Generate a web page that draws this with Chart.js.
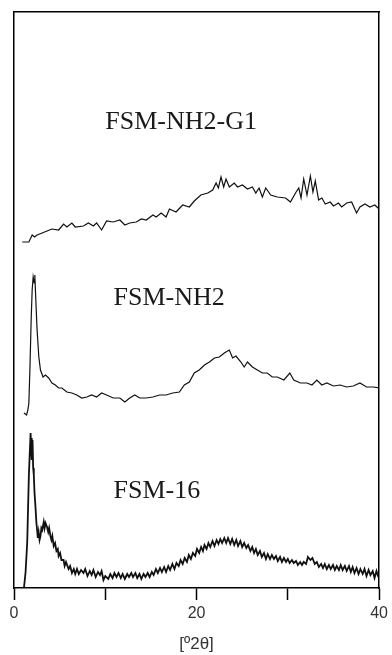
<!DOCTYPE html>
<html>
<head>
<meta charset="utf-8">
<script src="https://cdn.jsdelivr.net/npm/chart.js@4"></script>
<style>
  html, body { margin: 0; padding: 0; background: #fff; }
  #wrap { width: 392px; height: 655px; position: relative; }
</style>
</head>
<body>
<div id="wrap"><canvas id="xrdChart"></canvas></div>
<script>
// x in degrees 2theta, y in stacked intensity units (a.u.)
const g1X = [0.90,1.63,1.99,2.25,2.53,3.08,3.62,4.16,4.89,5.43,5.79,6.34,6.71,7.61,8.15,8.70,9.05,9.60,10.14,10.87,11.60,12.14,12.68,13.40,13.95,14.49,15.22,15.58,16.12,16.66,17.03,17.75,18.48,19.21,19.75,20.47,21.23,21.77,22.14,22.39,22.68,22.97,23.23,23.59,24.13,24.49,25.03,25.58,26.12,26.49,26.85,27.21,27.58,28.12,28.84,29.75,30.29,30.84,31.20,31.45,31.74,32.10,32.47,32.75,33.01,33.37,33.73,34.10,34.64,35.00,35.54,35.90,36.45,36.99,37.53,37.90,38.45,38.99,39.53,40.00];
const g1Y = [346,346,353,351,353,355,357,359,358,364,361,365,361,362,365,362,365,358,367,366,368,363,365,366,369,368,373,371,375,371,379,376,383,381,387,393,395,398,405,400,411,401,409,401,405,401,403,399,401,395,400,391,400,393,391,390,386,395,400,390,409,393,412,396,407,388,390,384,386,382,385,381,385,386,375,381,384,381,383,379];

const nh2X = [1.09,1.38,1.52,1.63,1.74,1.88,1.99,2.10,2.21,2.28,2.39,2.53,2.72,2.90,3.18,3.45,3.80,4.16,4.53,4.89,5.25,5.79,6.34,6.88,7.42,7.97,8.51,9.05,9.60,10.14,10.87,11.60,12.14,12.68,13.23,13.77,14.49,15.22,15.95,16.66,17.39,18.12,18.66,19.21,19.75,20.29,20.87,21.41,21.96,22.50,23.04,23.59,23.95,24.32,24.86,25.22,25.58,26.12,26.66,27.21,27.75,28.29,28.84,29.57,30.22,30.65,31.38,32.10,32.64,33.18,33.73,34.27,35.00,35.73,36.45,37.17,37.90,38.62,39.35,40.00];
const nh2Y = [175,173,178,185,218,268,298,311,305,313,288,258,231,218,211,213,210,205,203,200,200,196,195,193,190,191,193,191,195,193,190,190,186,190,193,190,190,191,193,193,195,196,203,206,215,218,223,226,230,231,235,238,230,232,226,221,226,221,218,215,215,211,211,208,215,208,205,205,203,208,203,205,202,203,201,202,205,201,201,200];

const f16X = [1.09,1.27,1.45,1.63,1.75,1.82,1.88,1.92,1.97,2.03,2.10,2.17,2.25,2.36,2.45,2.53,2.61,2.70,2.80,2.90,3.00,3.10,3.26,3.35,3.45,3.62,3.75,3.85,3.99,4.10,4.20,4.35,4.50,4.65,4.80,4.89,5.05,5.20,5.43,5.55,5.70,5.98,6.15,6.35,6.55,6.71,6.90,7.10,7.35,7.61,7.80,8.05,8.30,8.51,8.70,8.95,9.20,9.42,9.60,9.80,10.00,10.33,10.55,10.80,11.00,11.23,11.45,11.70,11.90,12.14,12.40,12.60,12.85,13.04,13.30,13.50,13.75,13.95,14.20,14.40,14.65,14.86,15.10,15.30,15.55,15.76,16.00,16.20,16.45,16.66,16.90,17.10,17.35,17.58,17.80,18.05,18.25,18.48,18.70,18.95,19.15,19.38,19.60,19.85,20.05,20.29,20.50,20.70,20.87,21.10,21.30,21.50,21.75,21.96,22.20,22.40,22.60,22.80,23.04,23.25,23.45,23.70,23.90,24.13,24.35,24.55,24.80,25.00,25.22,25.45,25.65,25.90,26.10,26.30,26.50,26.70,26.95,27.15,27.39,27.60,27.80,28.05,28.25,28.48,28.70,28.90,29.15,29.35,29.57,29.80,30.00,30.20,30.45,30.65,30.90,31.10,31.35,31.55,31.74,32.00,32.20,32.47,32.70,32.95,33.18,33.40,33.65,33.85,34.05,34.27,34.50,34.70,34.95,35.15,35.36,35.60,35.80,36.00,36.25,36.45,36.70,36.90,37.10,37.30,37.53,37.75,37.95,38.20,38.40,38.62,38.85,39.05,39.30,39.50,39.71,39.85,40.00];
const f16Y = [0,16,46,113,140,155,138,150,128,148,120,113,95,80,66,58,50,56,48,52,60,58,66,60,65,61,56,60,52,48,52,42,45,37,39,32,35,28,28,22,26,19,22,15,19,14,19,14,18,15,19,12,17,13,18,11,16,13,17,8,12,9,14,10,15,11,15,10,14,9,14,11,15,11,15,10,14,9,14,11,15,11,16,13,19,15,20,16,21,16,22,18,24,19,25,22,28,24,30,26,33,29,35,32,39,35,41,37,43,39,45,41,47,42,48,44,49,45,50,45,50,44,49,43,48,42,47,41,45,40,43,37,41,35,39,33,37,31,35,29,34,29,33,29,32,27,31,26,30,26,29,25,28,25,27,23,26,23,26,24,31,28,30,24,26,21,24,20,24,19,23,19,23,18,22,18,23,18,22,17,22,16,21,15,20,14,19,14,19,12,18,13,17,10,17,13,16];

const seriesNames = ['FSM-NH2-G1', 'FSM-NH2', 'FSM-16'];
const xTicks = [0, 10, 20, 30, 40];
const xTickLabels = ['0', '', '20', '', '40'];

const toPoints = (xs, ys) => xs.map((x, i) => ({ x, y: ys[i] }));

// where each sample name sits, in data units
const nameAnchors = [[10.0, 466], [10.9, 290], [10.9, 97]];

const seriesNamePlugin = {
  id: 'seriesNames',
  afterDatasetsDraw(chart) {
    const { ctx, scales: { x, y } } = chart;
    ctx.save();
    ctx.font = '26px "Liberation Serif", "Times New Roman", serif';
    ctx.fillStyle = '#1a1a1a';
    ctx.textAlign = 'left';
    ctx.textBaseline = 'middle';
    seriesNames.forEach((name, i) => {
      ctx.fillText(name, x.getPixelForValue(nameAnchors[i][0]), y.getPixelForValue(nameAnchors[i][1]));
    });
    ctx.restore();
  }
};

const frameAxis = (position, axis) => ({
  type: 'linear',
  position,
  axis,
  display: true,
  ticks: { display: false },
  grid: { display: false, drawTicks: false },
  border: { display: true, color: '#000', width: 1.5 },
  afterFit: s => { if (axis === 'y') s.width = 0; else s.height = 0; }
});

new Chart(document.getElementById('xrdChart'), {
  type: 'scatter',
  data: {
    datasets: [
      { label: seriesNames[0], data: toPoints(g1X, g1Y), borderWidth: 1.2 },
      { label: seriesNames[1], data: toPoints(nh2X, nh2Y), borderWidth: 1.2 },
      { label: seriesNames[2], data: toPoints(f16X, f16Y), borderWidth: 1.8 }
    ].map(d => ({ ...d, showLine: true, borderColor: '#111', pointRadius: 0, tension: 0, fill: false }))
  },
  options: {
    responsive: true,
    maintainAspectRatio: false,
    animation: false,
    layout: { padding: { left: 14, right: 10, top: 12, bottom: 0 } },
    plugins: { legend: { display: false }, tooltip: { enabled: false } },
    scales: {
      x: {
        type: 'linear',
        position: 'bottom',
        min: 0,
        max: 40,
        afterBuildTicks: s => { s.ticks = xTicks.map(v => ({ value: v })); },
        afterFit: s => { s.height = 67; },
        ticks: {
          autoSkip: false,
          maxRotation: 0,
          padding: 4,
          color: '#333',
          font: { family: '"Liberation Sans", Arial, sans-serif', size: 16 },
          callback: (v) => xTickLabels[xTicks.indexOf(v)]
        },
        grid: { display: true, drawOnChartArea: false, drawTicks: true, tickLength: 12, tickColor: '#000', tickWidth: 1.5 },
        border: { display: true, color: '#000', width: 1.5 },
        title: {
          display: true,
          text: '[º2θ]',
          color: '#333',
          padding: { top: 0, bottom: 0 },
          font: { family: '"Liberation Sans", Arial, sans-serif', size: 17 }
        }
      },
      y: { ...frameAxis('left', 'y'), min: 0, max: 576 },
      y2: frameAxis('right', 'y'),
      x2: frameAxis('top', 'x')
    }
  },
  plugins: [seriesNamePlugin]
});
</script>
</body>
</html>
